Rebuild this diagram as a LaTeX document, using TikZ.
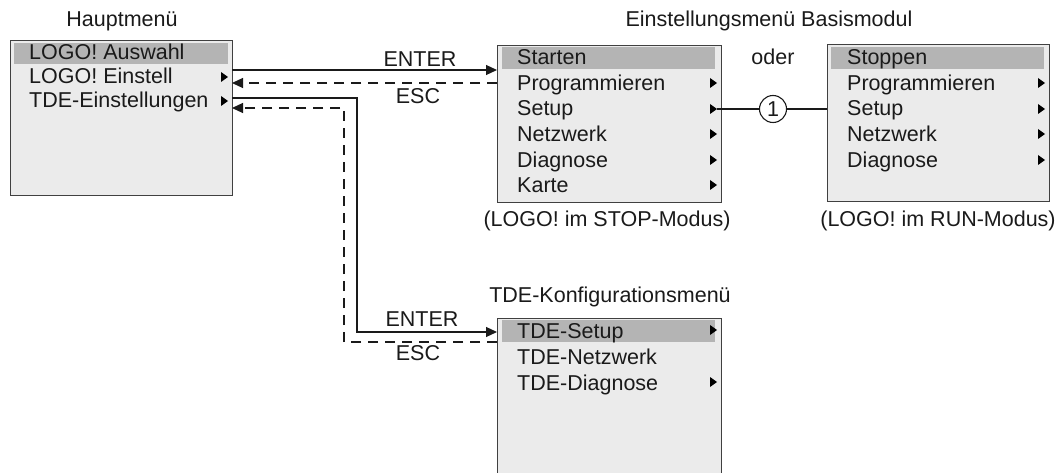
\documentclass[tikz,border=0pt]{standalone}
\usepackage{fontspec}
\setmainfont{Liberation Sans}
\usetikzlibrary{arrows.meta}
\definecolor{boxfill}{HTML}{EBEBEB}
\definecolor{hilite}{HTML}{B4B4B4}
\definecolor{boxline}{HTML}{404040}
\definecolor{ink}{HTML}{1A1A1A}
\newcommand\subtri[2]{\fill[black] (#1-3,#2-5) -- (#1+4,#2) -- (#1-3,#2+5) -- cycle;}
\begin{document}
\begin{tikzpicture}[x=1pt,y=-1pt,
  font=\fontsize{21.5}{25}\selectfont,
  menubox/.style={draw=boxline, fill=boxfill, line width=1.4pt, anchor=north west, inner sep=0pt},
  hlbar/.style={fill=hilite, draw=none, anchor=north west, inner sep=0pt},
  item/.style={anchor=base west, inner sep=0pt, text=ink},
  lbl/.style={anchor=base, inner sep=0pt, text=ink},
  conn/.style={line width=1.1pt, draw=ink, -{Triangle[length=11pt,width=10pt]}},
  back/.style={conn, dash pattern=on 10pt off 7pt},
  plain/.style={line width=1.1pt, draw=ink}]
\useasboundingbox (0,0) rectangle (1063,473);
\clip (0,0) rectangle (1063,473);

% titles and captions
\node[lbl] (t1) at (122,27) {Hauptmenü};
\node[lbl] (t2) at (769,27) {Einstellungsmenü Basismodul};
\node[lbl] (t3) at (610,302) {TDE-Konfigurationsmenü};
\node[lbl] (oder) at (773,65) {oder};
\node[lbl] (cap1) at (607,227) {(LOGO! im STOP-Modus)};
\node[lbl] (cap2) at (938,227) {(LOGO! im RUN-Modus)};

% Hauptmenü box
\node[menubox, minimum width=222pt, minimum height=155pt] (hm) at (10,40) {};
\node[hlbar, minimum width=214pt, minimum height=21pt] (hmh) at (14,43) {};
\node[item] (hm1) at (29,60) {LOGO! Auswahl};
\node[item] (hm2) at (29,84) {LOGO! Einstell};
\node[item] (hm3) at (29,108) {TDE-Einstellungen};
\subtri{224}{77}
\subtri{224}{101}

% Einstellungsmenü STOP box
\node[menubox, minimum width=224pt, minimum height=157pt] (bs) at (497,45) {};
\node[hlbar, minimum width=213pt, minimum height=22pt] (bsh) at (502,47) {};
\node[item] (bs1) at (517,65) {Starten};
\node[item] (bs2) at (517,91) {Programmieren};
\node[item] (bs3) at (517,116) {Setup};
\node[item] (bs4) at (517,142) {Netzwerk};
\node[item] (bs5) at (517,168) {Diagnose};
\node[item] (bs6) at (517,193) {Karte};
\subtri{713}{83}
\subtri{713}{109}
\subtri{713}{134}
\subtri{713}{160}
\subtri{713}{185}

% Einstellungsmenü RUN box
\node[menubox, minimum width=222pt, minimum height=157pt] (br) at (827,44) {};
\node[hlbar, minimum width=213pt, minimum height=22pt] (brh) at (831,47) {};
\node[item] (br1) at (847,65) {Stoppen};
\node[item] (br2) at (847,91) {Programmieren};
\node[item] (br3) at (847,116) {Setup};
\node[item] (br4) at (847,142) {Netzwerk};
\node[item] (br5) at (847,168) {Diagnose};
\subtri{1041}{83}
\subtri{1041}{109}
\subtri{1041}{134}
\subtri{1041}{160}

% TDE-Konfigurationsmenü box
\node[menubox, minimum width=224pt, minimum height=200pt] (bt) at (497,318) {};
\node[hlbar, minimum width=213pt, minimum height=22pt] (bth) at (502,320) {};
\node[item] (bt1) at (517,338) {TDE-Setup};
\node[item] (bt2) at (517,364) {TDE-Netzwerk};
\node[item] (bt3) at (517,390) {TDE-Diagnose};
\subtri{713}{330}
\subtri{713}{382}

% connection points
\coordinate (hmA) at (232,70);
\coordinate (hmB) at (232,83);
\coordinate (hmC) at (232,98);
\coordinate (hmD) at (232,108);
\coordinate (bsA) at (497,70);
\coordinate (bsB) at (497,83);
\coordinate (btA) at (497,332);
\coordinate (btB) at (497,342);
\coordinate (bsS) at (717,109);
\coordinate (brS) at (827,109);

% connectors
\draw[conn] (hmA) -- (bsA);
\draw[back] (bsB) -- (hmB);
\draw[conn] (hmC) -- (357,98) -- (357,332) -- (btA);
\draw[back] (btB) -- (344,342) -- (344,108) -- (hmD);

\node[circle, draw=ink, line width=1.1pt, minimum size=27pt, inner sep=0pt, fill=white, text=ink] (c1) at (773,109) {1};
\draw[plain] (bsS) -- (c1);
\draw[plain] (c1) -- (brS);

% labels
\node[lbl] (e1) at (420,67) {ENTER};
\node[lbl] (s1) at (418,104) {ESC};
\node[lbl] (e2) at (422,326) {ENTER};
\node[lbl] (s2) at (418,360) {ESC};
\end{tikzpicture}
\end{document}
